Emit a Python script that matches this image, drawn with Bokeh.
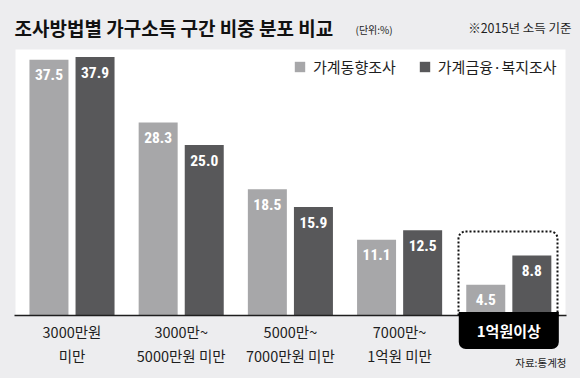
from bokeh.plotting import figure
from bokeh.models import (ColumnDataSource, Range1d, Label, BoxAnnotation,
                          Legend, LegendItem)
from bokeh.transform import dodge
from bokeh.core.properties import value
from bokeh.embed import file_html
from bokeh.resources import INLINE

# ---------------- data ----------------
cat_line1 = ["3000만원", "3000만~", "5000만~", "7000만~", "1억원 이상"]
cat_line2 = ["미만", "5000만원 미만", "7000만원 미만", "1억원 미만", ""]
series_names = ["가계동향조사", "가계금융·복지조사"]
survey_a = [37.5, 28.3, 18.5, 11.1, 4.5]   # 가계동향조사
survey_b = [37.9, 25.0, 15.9, 12.5, 8.8]   # 가계금융·복지조사
title_text = "조사방법별 가구소득 구간 비중 분포 비교"
unit_text = "(단위:%)"
note_text = "※2015년 소득 기준"
source_text = "자료:통계청"

# ---------------- style ----------------
BG = "#ededef"
C_A = "#a7a7a9"
C_B = "#58585a"
INK = "#1e1e1e"
KR = "Noto Sans CJK KR"
NUM = "'Liberation Sans Narrow', 'Roboto Condensed', 'DejaVu Sans Condensed', Roboto"

W, H = 580, 378
# pixel layout (page coords): white panel x 15..565, y 49..315 (baseline)
PXX = 109.2   # px per category step
PXY = 6.82    # px per percentage point
X0 = -(71.5 - 15) / PXX


def dx(wx):
    return X0 + (wx - 15) / PXX


def dy(wy):
    return (315 - wy) / PXY


idx = list(range(len(survey_a)))
src = ColumnDataSource(dict(
    x=idx, a=survey_a, b=survey_b,
    la=[f"{v:.1f}" for v in survey_a], lb=[f"{v:.1f}" for v in survey_b],
))

p = figure(width=W, height=H, x_range=Range1d(dx(0), dx(W)),
           y_range=Range1d(dy(H), dy(0)),
           x_axis_location=None, y_axis_location=None, toolbar_location=None,
           output_backend="svg", min_border=0)
p.background_fill_color = BG
p.border_fill_color = BG
p.outline_line_color = None
p.grid.visible = False

# white panel
p.add_layout(BoxAnnotation(left=dx(15), right=dx(565), bottom=0, top=dy(49),
                           fill_color="white", fill_alpha=1, line_color=None,
                           level="underlay"))

OFF = 0.211
BW = 39 / PXX
ra = p.vbar(x=dodge("x", -OFF, range=p.x_range), top="a", width=BW, source=src,
            fill_color=C_A, line_color=None)
rb = p.vbar(x=dodge("x", OFF, range=p.x_range), top="b", width=BW, source=src,
            fill_color=C_B, line_color=None)

for col, lab, off in (("a", "la", -OFF), ("b", "lb", OFF)):
    p.text(x=dodge("x", off, range=p.x_range), y=col, text=lab, source=src,
           text_color="white", text_font=value(NUM), text_font_style="bold",
           text_font_size="15.5px", text_align="center", text_baseline="middle",
           y_offset=15)

# dotted highlight box around last group
p.add_layout(BoxAnnotation(left=dx(458), right=dx(557), top=dy(231), bottom=0,
                           fill_alpha=0, line_color="#111111", line_alpha=1,
                           line_width=2, line_dash="2 2",
                           border_radius=(7, 7, 0, 0)))

# baseline
p.line(x=[dx(14), dx(566)], y=[0, 0], line_color=INK, line_width=1.5)

# category labels
last = len(cat_line1) - 1
for i in range(last):
    p.add_layout(Label(x=i, y=dy(331), text=cat_line1[i], text_font=KR,
                       text_font_size="14.5px", text_color=INK,
                       text_align="center", text_baseline="middle"))
    p.add_layout(Label(x=i, y=dy(355), text=cat_line2[i], text_font=KR,
                       text_font_size="14.5px", text_color=INK,
                       text_align="center", text_baseline="middle"))
p.add_layout(Label(x=last, y=dy(330), text=cat_line1[last].replace(" ", ""), text_font=KR,
                   text_font_style="bold", text_font_size="15px", text_color="white",
                   text_align="center", text_baseline="middle",
                   background_fill_color="black", padding=(18, 8),
                   border_radius=(0, 0, 7, 7)))

# titles / notes
p.add_layout(Label(x=dx(14), y=dy(27), text=title_text, text_font=KR,
                   text_font_style="bold", text_font_size="19px", text_color="#111111",
                   text_align="left", text_baseline="middle"))
p.add_layout(Label(x=dx(355), y=dy(29), text=unit_text, text_font=KR,
                   text_font_size="10px", text_color=INK,
                   text_align="left", text_baseline="middle"))
p.add_layout(Label(x=dx(571), y=dy(27), text=note_text, text_font=KR,
                   text_font_size="12.5px", text_color=INK,
                   text_align="right", text_baseline="middle"))
p.add_layout(Label(x=dx(566), y=dy(362), text=source_text, text_font=KR,
                   text_font_size="10.5px", text_color=INK,
                   text_align="right", text_baseline="middle"))

legend = Legend(items=[LegendItem(label=series_names[0], renderers=[ra]),
                       LegendItem(label=series_names[1], renderers=[rb])],
                orientation="horizontal", location=(293, 301),
                glyph_width=13, glyph_height=13, label_standoff=7, spacing=22,
                padding=0, margin=0, background_fill_alpha=0, border_line_alpha=0,
                label_text_font=KR, label_text_font_size="15px",
                label_text_color=INK)
p.add_layout(legend)

template = """{% block preamble %}<style>html, body { background: #ededef; }</style>{% endblock %}
"""
open("out.html", "w").write(file_html(p, INLINE, template=template))
